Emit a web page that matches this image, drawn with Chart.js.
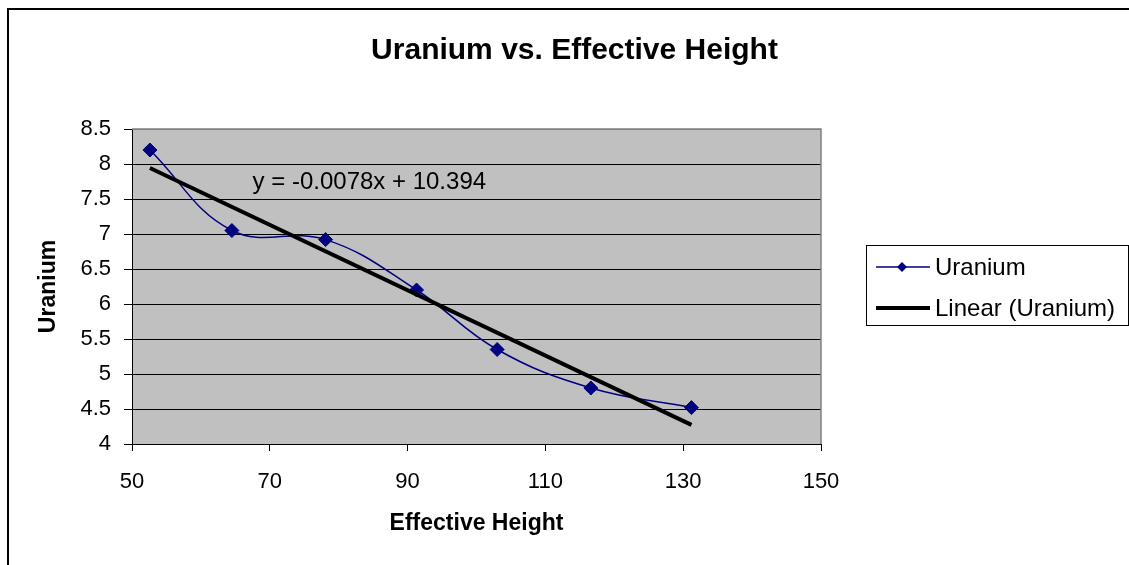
<!DOCTYPE html>
<html>
<head>
<meta charset="utf-8">
<script src="https://cdn.jsdelivr.net/npm/chart.js@4.4.0/dist/chart.umd.min.js"></script>
<style>
  html, body { margin: 0; padding: 0; background: #ffffff; overflow: hidden; }
  #wrap { position: relative; width: 1129px; height: 565px; }
</style>
</head>
<body>
<div id="wrap"><canvas id="c"></canvas></div>
<script>
// ---- data ----
const effectiveHeight = [52.6, 64.5, 78.1, 91.3, 103.0, 116.6, 131.2];
const uranium = [8.2, 7.05, 6.92, 6.2, 5.35, 4.8, 4.52];
const seriesLabel = 'Uranium';
const trendLabel = 'Linear (Uranium)';
const chartTitle = 'Uranium vs. Effective Height';
const xTitle = 'Effective Height';
const yTitle = 'Uranium';
const equationText = 'y = -0.0078x + 10.394';
const equationAt = [67.5, 7.74];   // data coordinates of the equation label (left, middle)
const xMin = 50, xMax = 150, xStep = 20;
const yMin = 4, yMax = 8.5, yStep = 0.5;

// least-squares trend line from the series
const n = effectiveHeight.length;
const mx = effectiveHeight.reduce((a, b) => a + b, 0) / n;
const my = uranium.reduce((a, b) => a + b, 0) / n;
let sxy = 0, sxx = 0;
for (let i = 0; i < n; i++) {
  sxy += (effectiveHeight[i] - mx) * (uranium[i] - my);
  sxx += (effectiveHeight[i] - mx) ** 2;
}
const slope = sxy / sxx;
const intercept = my - slope * mx;
const xFirst = Math.min(...effectiveHeight), xLast = Math.max(...effectiveHeight);
const trendPoints = [xFirst, xLast].map(x => ({ x, y: intercept + slope * x }));

const seriesPoints = effectiveHeight.map((x, i) => ({ x, y: uranium[i] }));

const FONT = "'Liberation Sans', Arial, sans-serif";
const NAVY = '#000080';

const decorPlugin = {
  id: 'decor',
  beforeDraw(chart) {
    const { ctx, chartArea: a } = chart;
    ctx.save();
    ctx.fillStyle = '#ffffff';
    ctx.fillRect(0, 0, chart.width, chart.height);
    ctx.fillStyle = '#c0c0c0';
    ctx.fillRect(a.left, a.top, a.right - a.left, a.bottom - a.top);
    // outer chart border (top and left visible)
    ctx.strokeStyle = '#000000';
    ctx.lineWidth = 2;
    ctx.beginPath();
    ctx.moveTo(8, chart.height + 2);
    ctx.lineTo(8, 9);
    ctx.lineTo(chart.width + 2, 9);
    ctx.stroke();
    ctx.restore();
  },
  beforeDatasetsDraw(chart) {
    const { ctx, chartArea: a } = chart;
    ctx.save();
    ctx.strokeStyle = '#808080';
    ctx.lineWidth = 1.5;
    ctx.beginPath();
    ctx.moveTo(a.left, a.top);
    ctx.lineTo(a.right, a.top);
    ctx.lineTo(a.right, a.bottom);
    ctx.stroke();
    ctx.restore();
  },
  afterDraw(chart) {
    const { ctx } = chart;
    const xs = chart.scales.x, ys = chart.scales.y;
    ctx.save();
    // equation label
    ctx.fillStyle = '#000000';
    ctx.font = '24px ' + FONT;
    ctx.textAlign = 'left';
    ctx.textBaseline = 'middle';
    ctx.fillText(equationText, xs.getPixelForValue(equationAt[0]), ys.getPixelForValue(equationAt[1]));

    // legend
    const L = 866.5, T = 245.5, W = 262, H = 80;
    ctx.strokeStyle = '#000000';
    ctx.lineWidth = 1;
    ctx.strokeRect(L, T, W, H);
    const rows = [268, 309];
    chart.data.datasets.forEach((ds, i) => {
      const y = rows[i];
      ctx.strokeStyle = ds.borderColor;
      ctx.lineWidth = ds.borderWidth;
      ctx.beginPath();
      ctx.moveTo(876, y - 1);
      ctx.lineTo(930, y - 1);
      ctx.stroke();
      if (ds.pointRadius > 0) {
        ctx.fillStyle = ds.pointBackgroundColor;
        ctx.beginPath();
        const r = 5;
        ctx.moveTo(902 - r, y - 1);
        ctx.lineTo(902, y - 1 - r);
        ctx.lineTo(902 + r, y - 1);
        ctx.lineTo(902, y - 1 + r);
        ctx.closePath();
        ctx.fill();
      }
      ctx.fillStyle = '#000000';
      ctx.font = '24px ' + FONT;
      ctx.textAlign = 'left';
      ctx.textBaseline = 'middle';
      ctx.fillText(ds.label, 935, y);
    });
    ctx.restore();
  },
  afterLayout(chart) {
    // centre the title over the whole (clipped) chart frame
    if (chart.titleBlock) {
      chart.titleBlock.left = 20;
      chart.titleBlock.right = chart.width;
    }
  }
};

new Chart(document.getElementById('c'), {
  type: 'scatter',
  data: {
    datasets: [
      {
        label: seriesLabel,
        data: seriesPoints,
        showLine: true,
        tension: 0.4,
        borderColor: NAVY,
        borderWidth: 1.5,
        pointStyle: 'rectRot',
        pointRadius: 7,
        pointHoverRadius: 7,
        pointBackgroundColor: NAVY,
        pointBorderColor: NAVY,
        pointBorderWidth: 1,
        order: 1
      },
      {
        label: trendLabel,
        data: trendPoints,
        showLine: true,
        tension: 0,
        borderColor: '#000000',
        borderWidth: 4,
        pointRadius: 0,
        pointHoverRadius: 0,
        order: 0
      }
    ]
  },
  options: {
    responsive: true,
    maintainAspectRatio: false,
    animation: false,
    events: [],
    layout: { padding: { left: 0, right: 308, top: 0, bottom: 0 } },
    plugins: {
      legend: { display: false },
      tooltip: { enabled: false },
      title: {
        display: true,
        text: chartTitle,
        color: '#000000',
        font: { family: FONT, size: 30, weight: 'bold' },
        padding: { top: 33, bottom: 60 }
      }
    },
    scales: {
      x: {
        type: 'linear',
        min: xMin, max: xMax,
        afterFit(s) { s.height = 121; },
        ticks: { stepSize: xStep, color: '#000000', font: { family: FONT, size: 22 }, padding: 18 },
        grid: { drawOnChartArea: false, drawTicks: true, tickLength: 7, tickColor: '#000000' },
        border: { display: true, color: '#000000', width: 1 },
        title: {
          display: true, text: xTitle, color: '#000000',
          font: { family: FONT, size: 23, weight: 'bold' },
          padding: { top: 0, bottom: 27.5 }
        }
      },
      y: {
        type: 'linear',
        min: yMin, max: yMax,
        afterFit(s) { s.width = 132; },
        ticks: {
          stepSize: yStep, color: '#000000', font: { family: FONT, size: 22 }, padding: 13,
          callback: v => String(v)
        },
        grid: {
          color: c => (c.tick && c.tick.value === yMax ? '#808080' : '#000000'),
          lineWidth: 1,
          drawTicks: true, tickLength: 8, tickColor: '#000000'
        },
        border: { display: true, color: '#000000', width: 1 },
        title: {
          display: true, text: yTitle, color: '#000000',
          font: { family: FONT, size: 23, weight: 'bold' },
          padding: { top: 35, bottom: 0 }
        }
      }
    }
  },
  plugins: [decorPlugin]
});
</script>
</body>
</html>
